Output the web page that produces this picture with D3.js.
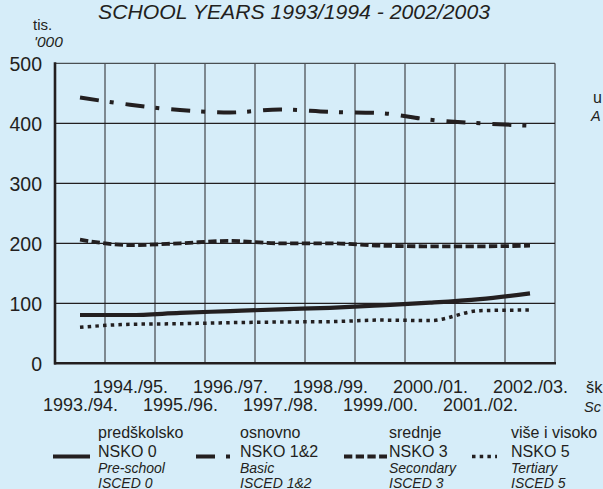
<!DOCTYPE html>
<html>
<head>
<meta charset="utf-8">
<script src="https://cdn.jsdelivr.net/npm/d3@7"></script>
<style>
  html, body { margin: 0; padding: 0; background: #d6edf9; }
  svg { display: block; font-family: "Liberation Sans", Arial, Helvetica, sans-serif; }
</style>
</head>
<body>
<svg id="chart" width="603" height="489"></svg>
<script>
// ---- data ----
const categories = ["1993./94.", "1994./95.", "1995./96.", "1996./97.", "1997./98.",
                    "1998./99.", "1999./00.", "2000./01.", "2001./02.", "2002./03."];
const preschool = [80.5, 80.5, 84, 87, 90, 92.5, 96.5, 101, 107, 116.5];
const basic     = [443, 431, 422, 418, 423, 419, 417, 406, 400, 396];
const secondary = [206, 197, 200, 204, 200, 200, 196, 195, 195, 196];
const tertiary  = [60, 65, 66, 67.7, 68.8, 69.4, 72, 71.2, 87.7, 88.8];
const yTicks = [0, 100, 200, 300, 400, 500];
const titleText = "SCHOOL YEARS 1993/1994 - 2002/2003";
const legendHr = ["predškolsko", "osnovno", "srednje", "više i visoko"];
const legendNsko = ["NSKO 0", "NSKO 1&2", "NSKO 3", "NSKO 5"];
const legendEn = ["Pre-school", "Basic", "Secondary", "Tertiary"];
const legendIsced = ["ISCED 0", "ISCED 1&2", "ISCED 3", "ISCED 5"];

// ---- layout ----
const ink = "#231f20";
const svg = d3.select("#chart");
const plot = { left: 55, right: 555, top: 63.3, bottom: 363.3 };

const xBand = d3.scaleBand().domain(categories).range([plot.left, plot.right]).padding(0);
const xc = c => xBand(c) + xBand.bandwidth() / 2;
const y = d3.scaleLinear().domain([0, 500]).range([plot.bottom, plot.top]);

// vertical grid (band edges)
const edges = categories.map(c => xBand(c)).concat([plot.right]);
svg.append("g").selectAll("line").data(edges.slice(1)).join("line")
  .attr("x1", d => d).attr("x2", d => d)
  .attr("y1", plot.top).attr("y2", plot.bottom)
  .attr("stroke", "#7d8890").attr("stroke-width", 2);

// horizontal grid
svg.append("g").selectAll("line").data(yTicks.filter(t => t > 0)).join("line")
  .attr("x1", plot.left).attr("x2", plot.right)
  .attr("y1", d => y(d)).attr("y2", d => y(d))
  .attr("stroke", d => d === 500 ? "#4a4f53" : ink).attr("stroke-width", 1.3);

// axes lines
svg.append("line").attr("x1", plot.left).attr("x2", plot.left)
  .attr("y1", plot.top - 1).attr("y2", plot.bottom + 1.2)
  .attr("stroke", ink).attr("stroke-width", 2.6);
svg.append("line").attr("x1", plot.left - 1).attr("x2", plot.right + 1)
  .attr("y1", plot.bottom).attr("y2", plot.bottom)
  .attr("stroke", ink).attr("stroke-width", 2.4);

// y tick labels
const yAxis = svg.append("g").attr("transform", `translate(${plot.left},0)`)
  .call(d3.axisLeft(y).tickValues(yTicks).tickSize(0).tickPadding(13).tickFormat(d3.format("d")));
yAxis.select(".domain").remove();
yAxis.selectAll("text").attr("font-size", 19.5).attr("fill", ink)
  .attr("font-family", "Liberation Sans, Arial, sans-serif").attr("dy", "0.36em");

// x tick labels (alternating rows)
const xPoint = d3.scalePoint().domain(categories).range([xc(categories[0]), xc(categories[categories.length - 1])]);
const xAxis = svg.append("g").attr("transform", `translate(0,${plot.bottom})`)
  .call(d3.axisBottom(xPoint).tickSize(0).tickPadding(0));
xAxis.select(".domain").remove();
xAxis.selectAll("text")
  .attr("font-size", 18).attr("fill", ink)
  .attr("font-family", "Liberation Sans, Arial, sans-serif")
  .attr("dy", null)
  .attr("y", (d, i) => i % 2 === 1 ? 29.7 : 48);

// lines
const line = d3.line().x((d, i) => xc(categories[i])).y(d => y(d)).curve(d3.curveMonotoneX);
const series = [
  { values: preschool, width: 4.2, dash: null },
  { values: basic,     width: 4,   dash: "19 11 4 12" },
  { values: secondary, width: 3.8, dash: "8.3 3.4" },
  { values: tertiary,  width: 3.5, dash: "3.5 4.2" }
];
svg.append("g").selectAll("path").data(series).join("path")
  .attr("d", d => line(d.values))
  .attr("fill", "none").attr("stroke", ink)
  .attr("stroke-width", d => d.width)
  .attr("stroke-dasharray", d => d.dash);

// title and unit labels
svg.append("text").attr("x", 98).attr("y", 18.5).attr("font-size", 19.5)
  .attr("textLength", 392).attr("lengthAdjust", "spacingAndGlyphs")
  .attr("font-style", "italic").attr("fill", ink).text(titleText);
svg.append("text").attr("x", 33).attr("y", 30).attr("font-size", 15).attr("fill", ink).text("tis.");
svg.append("text").attr("x", 34).attr("y", 47).attr("font-size", 15.5)
  .attr("font-style", "italic").attr("fill", ink).text("'000");

// right side labels (only their beginnings are inside the picture)
svg.append("text").attr("x", 593).attr("y", 103).attr("font-size", 16).attr("fill", ink).text("u");
svg.append("text").attr("x", 591).attr("y", 121).attr("font-size", 14.5)
  .attr("font-style", "italic").attr("fill", ink).text("A");
svg.append("text").attr("x", 586).attr("y", 393).attr("font-size", 16.5).attr("fill", ink).text("šk");
svg.append("text").attr("x", 584).attr("y", 411.5).attr("font-size", 14.5)
  .attr("font-style", "italic").attr("fill", ink).text("Sc");

// legend
const legendItems = [
  { sx: 53,  ex: 90,  tx: 98 },
  { sx: 196, ex: 233, tx: 240 },
  { sx: 344, ex: 387, tx: 389 },
  { sx: 472, ex: 497, tx: 511 }
];
const lg = svg.append("g").selectAll("g").data(legendItems).join("g");
lg.append("line")
  .attr("x1", d => d.sx).attr("x2", d => d.ex)
  .attr("y1", 456.5).attr("y2", 456.5)
  .attr("stroke", ink)
  .attr("stroke-width", (d, i) => series[i].width)
  .attr("stroke-dasharray", (d, i) => series[i].dash);
lg.append("text").attr("x", d => d.tx).attr("y", 438).attr("font-size", 16).attr("fill", ink)
  .text((d, i) => legendHr[i]);
lg.append("text").attr("x", d => d.tx).attr("y", 457).attr("font-size", 16).attr("fill", ink)
  .text((d, i) => legendNsko[i]);
lg.append("text").attr("x", d => d.tx).attr("y", 473).attr("font-size", 14).attr("font-style", "italic").attr("fill", ink)
  .text((d, i) => legendEn[i]);
lg.append("text").attr("x", d => d.tx).attr("y", 487.5).attr("font-size", 14).attr("font-style", "italic").attr("fill", ink)
  .text((d, i) => legendIsced[i]);
</script>
</body>
</html>
